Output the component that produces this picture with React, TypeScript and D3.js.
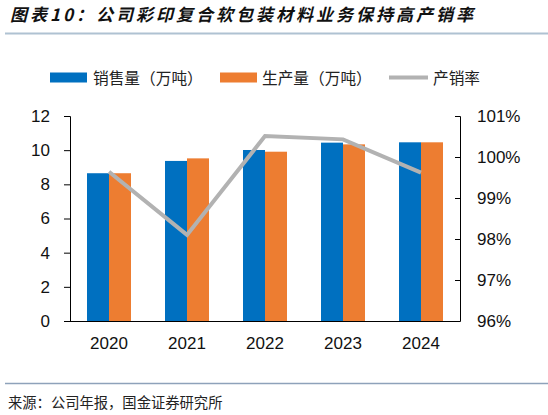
import React, { useEffect, useRef } from "react";
import * as d3 from "d3";

const years = ["2020", "2021", "2022", "2023", "2024"];
const sales = [8.65, 9.37, 10.01, 10.44, 10.46];
const production = [8.65, 9.52, 9.91, 10.34, 10.46];
const rate = [0.9964, 0.981, 1.0051, 1.0043, 0.9962];
const leftTicks = [0, 2, 4, 6, 8, 10, 12];
const rightTicks = [0.96, 0.97, 0.98, 0.99, 1.0, 1.01];

const title = "图表10：公司彩印复合软包装材料业务保持高产销率";
const source = "来源：公司年报，国金证券研究所";
const legendLabels = ["销售量（万吨）", "生产量（万吨）", "产销率"];

const W = 548;
const H = 415;
const BLUE = "#0070C0";
const ORANGE = "#ED7D31";
const GREY = "#B2B2B2";
const NUM_FONT = "'Liberation Sans', Arial, sans-serif";
const CJK_FONT = "'Noto Sans CJK SC', sans-serif";

export default function App() {
  const ref = useRef<SVGSVGElement | null>(null);

  useEffect(() => {
    const svg = d3.select(ref.current);
    svg.selectAll("*").remove();

    const left = 70, right = 460, top = 116, bottom = 321;

    const x = d3.scaleBand<string>().domain(years).range([left, right]).paddingInner(0.436).paddingOuter(0.218);
    const x1 = d3.scaleBand<string>().domain(["s", "p"]).range([0, x.bandwidth()]);
    const yL = d3.scaleLinear().domain([0, 12]).range([bottom, top]);
    const yR = d3.scaleLinear().domain([0.96, 1.01]).range([bottom, top]);

    // Title
    svg.append("text")
      .attr("x", 10).attr("y", 13)
      .attr("dominant-baseline", "central")
      .attr("font-family", CJK_FONT)
      .attr("font-size", 17)
      .attr("font-weight", "bold")
      .attr("font-style", "italic")
      .attr("letter-spacing", 3)
      .attr("fill", "#111")
      .text(title);
    svg.append("line").attr("x1", 5).attr("x2", W).attr("y1", 33.5).attr("y2", 33.5)
      .attr("stroke", "#AFC2D2").attr("stroke-width", 2);

    // Legend
    const lg = svg.append("g");
    lg.append("rect").attr("x", 50).attr("y", 72.5).attr("width", 37).attr("height", 10).attr("fill", BLUE);
    lg.append("text").attr("x", 93).attr("y", 77).text(legendLabels[0]);
    lg.append("rect").attr("x", 220).attr("y", 72.5).attr("width", 37).attr("height", 10).attr("fill", ORANGE);
    lg.append("text").attr("x", 262).attr("y", 77).text(legendLabels[1]);
    lg.append("line").attr("x1", 389).attr("x2", 428).attr("y1", 77.5).attr("y2", 77.5)
      .attr("stroke", GREY).attr("stroke-width", 4);
    lg.append("text").attr("x", 433).attr("y", 77).text(legendLabels[2]);
    lg.selectAll("text")
      .attr("dominant-baseline", "central")
      .attr("font-family", CJK_FONT)
      .attr("font-size", 15.7)
      .attr("fill", "#222");

    // Bars
    const bars = svg.append("g");
    years.forEach((yr, i) => {
      bars.append("rect")
        .attr("x", (x(yr) as number) + (x1("s") as number))
        .attr("y", yL(sales[i]))
        .attr("width", x1.bandwidth())
        .attr("height", yL(0) - yL(sales[i]))
        .attr("fill", BLUE);
      bars.append("rect")
        .attr("x", (x(yr) as number) + (x1("p") as number))
        .attr("y", yL(production[i]))
        .attr("width", x1.bandwidth())
        .attr("height", yL(0) - yL(production[i]))
        .attr("fill", ORANGE);
    });

    // Line
    const line = d3.line<number>()
      .x((_, i) => (x(years[i]) as number) + x.bandwidth() / 2)
      .y((d) => yR(d));
    svg.append("path").datum(rate).attr("d", line)
      .attr("fill", "none").attr("stroke", GREY).attr("stroke-width", 4)
      .attr("stroke-linejoin", "miter");

    // Left axis
    const axL = svg.append("g").attr("transform", `translate(${left},0)`)
      .call(d3.axisLeft(yL).tickValues(leftTicks).tickSize(6).tickSizeOuter(6).tickPadding(14).tickFormat(d3.format("d")));
    // Right axis
    const axR = svg.append("g").attr("transform", `translate(${right},0)`)
      .call(d3.axisRight(yR).tickValues(rightTicks).tickSize(-5).tickSizeOuter(-5).tickPadding(17).tickFormat(d3.format(".0%")));
    [axL, axR].forEach((ax) => {
      ax.selectAll("path,line").attr("stroke", "#000").attr("stroke-width", 1);
      ax.selectAll("text").attr("font-family", NUM_FONT).attr("font-size", 17).attr("fill", "#111");
    });

    // Bottom axis
    svg.append("line").attr("x1", left).attr("x2", right).attr("y1", bottom + 0.5).attr("y2", bottom + 0.5)
      .attr("stroke", "#000").attr("stroke-width", 1);
    svg.append("g").selectAll("text").data(years).enter().append("text")
      .attr("x", (d) => (x(d) as number) + x.bandwidth() / 2)
      .attr("y", 349)
      .attr("text-anchor", "middle")
      .attr("font-family", NUM_FONT)
      .attr("font-size", 17)
      .attr("fill", "#111")
      .text((d) => d);

    // Footer
    svg.append("line").attr("x1", 5).attr("x2", W).attr("y1", 383.5).attr("y2", 383.5)
      .attr("stroke", "#8EA2BA").attr("stroke-width", 1.5);
    svg.append("text").attr("x", 8).attr("y", 401)
      .attr("dominant-baseline", "central")
      .attr("font-family", CJK_FONT)
      .attr("font-size", 14.3)
      .attr("fill", "#222")
      .text(source);
  }, []);

  return (
    <svg
      ref={ref}
      width={W}
      height={H}
      style={{ position: "absolute", left: 0, top: 0, background: "#fff" }}
    />
  );
}
